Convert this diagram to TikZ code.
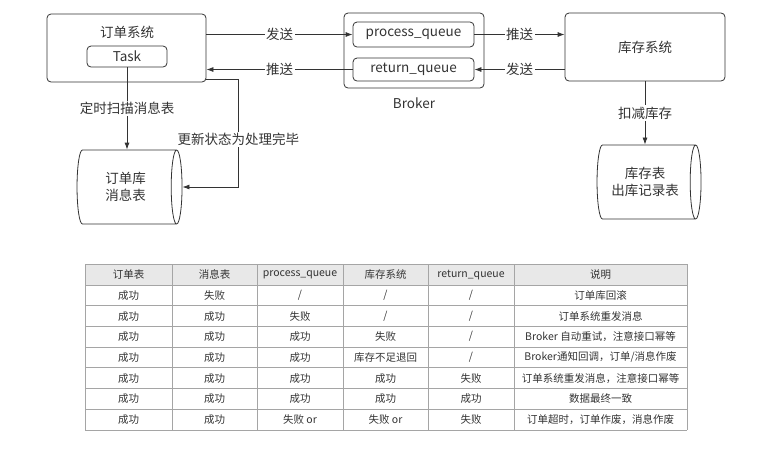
\documentclass[tikz,border=0pt]{standalone}
\usepackage{fontspec}
\setmainfont{Noto Sans CJK SC}
\definecolor{inkgray}{RGB}{51,51,51}
\definecolor{gridgray}{RGB}{165,165,165}
\definecolor{headgray}{RGB}{232,232,232}
\usetikzlibrary{positioning, arrows.meta, shapes.geometric}

\begin{document}
\begin{tikzpicture}[x=1pt, y=-1pt,
    sysbox/.style={draw=inkgray, rounded corners=4pt, line width=0.8pt,
      minimum width=159pt, minimum height=68pt},
    queue/.style={draw=inkgray, rounded corners=4pt, line width=0.8pt,
      minimum width=121pt, minimum height=23pt, inner sep=0pt},
    db/.style={cylinder, draw=inkgray, line width=0.8pt, shape aspect=0.3,
      minimum height=105pt, minimum width=74pt, align=center,
      font=\fontsize{13.5}{17}\selectfont},
    arr/.style={draw=inkgray, line width=0.8pt, -{Latex[length=7pt, width=5pt]}},
    lbl/.style={fill=white, inner sep=1.5pt, text=inkgray},
    cell/.style={font=\fontsize{10.5}{12}\selectfont, text=inkgray, inner sep=0pt},
    every node/.style={text=inkgray, font=\fontsize{13.5}{15}\selectfont},
    node distance=0.15cm,
  ]
  \useasboundingbox (0,0) rectangle (759,451);

  % order system
  \node[sysbox] (ordersys) at (126.5, 48) {};
  \node (ordertitle) at (127, 32) {订单系统};
  \node[queue, minimum width=80pt, minimum height=21pt] (task) at (127, 56.5) {Task};

  % broker
  \node[sysbox, minimum width=140pt, minimum height=75pt] (broker) at (414, 50.5) {};
  \node[queue, minimum height=25pt] (pq) at (413.5, 34.5) {process\_queue};
  \node[queue] (rq) at (413.5, 69.5) {return\_queue};
  \node[below=15pt of broker.south, anchor=center] (brokerlbl) {Broker};

  % stock system
  \node[sysbox, minimum width=160pt] (stock) at (645, 47) {库存系统};

  % databases
  \node[db] (db1) at (125.5, 187) {订单库\\消息表};
  \node[db, minimum height=104pt] (db2) at (645, 182) {库存表\\出库记录表};

  % messages
  \draw[arr] (pq.west -| ordersys.east) -- node[lbl]{发送} (pq.west);
  \draw[arr] (rq.west) -- node[lbl]{推送} (rq.west -| ordersys.east);
  \draw[arr] (pq.east) -- node[lbl]{推送} (pq.east -| stock.west);
  \draw[arr] (rq.east -| stock.west) -- node[lbl]{发送} (rq.east);
  \draw[arr] (task.south) -- node[lbl]{定时扫描消息表} (task.south |- db1.north);
  \draw[arr] (stock.south) -- node[lbl]{扣减库存} (stock.south |- db2.north);
  \draw[arr] ([yshift=3pt]ordersys.south east) -- ++(32,0) coordinate (bend)
    -- node[lbl, pos=0.56]{更新状态为处理完毕} (bend |- db1.east) -- (db1.east);

  % table
  \fill[headgray] (85,264.3) rectangle (687,285);
  \foreach \r in {0,...,8}
    \draw[gridgray, line width=0.7pt] (85,264.3+20.7*\r) -- (687,264.3+20.7*\r);
  \foreach \x in {85,172,257,343,428,514,687}
    \draw[gridgray, line width=0.7pt] (\x,264.3) -- (\x,429.9);
  \foreach \row [count=\r] in {
      {订单表,消息表,process\_queue,库存系统,return\_queue,说明},
      {成功,失败,/,/,/,订单库回滚},
      {成功,成功,失败,/,/,订单系统重发消息},
      {成功,成功,成功,失败,/,Broker 自动重试，注意接口幂等},
      {成功,成功,成功,库存不足退回,/,Broker通知回调，订单/消息作废},
      {成功,成功,成功,成功,失败,订单系统重发消息，注意接口幂等},
      {成功,成功,成功,成功,成功,数据最终一致},
      {成功,成功,失败 or,失败 or,失败,订单超时，订单作废，消息作废}}
    \foreach \cell [count=\c] in \row {
      \pgfmathsetmacro{\cx}{{128.5,214.5,300,385.5,471,600.5}[\c-1]}
      \node[cell] (cell-\r-\c) at (\cx, 264.3+20.7*\r-10.35) {\cell};
    }
\end{tikzpicture}
\end{document}
